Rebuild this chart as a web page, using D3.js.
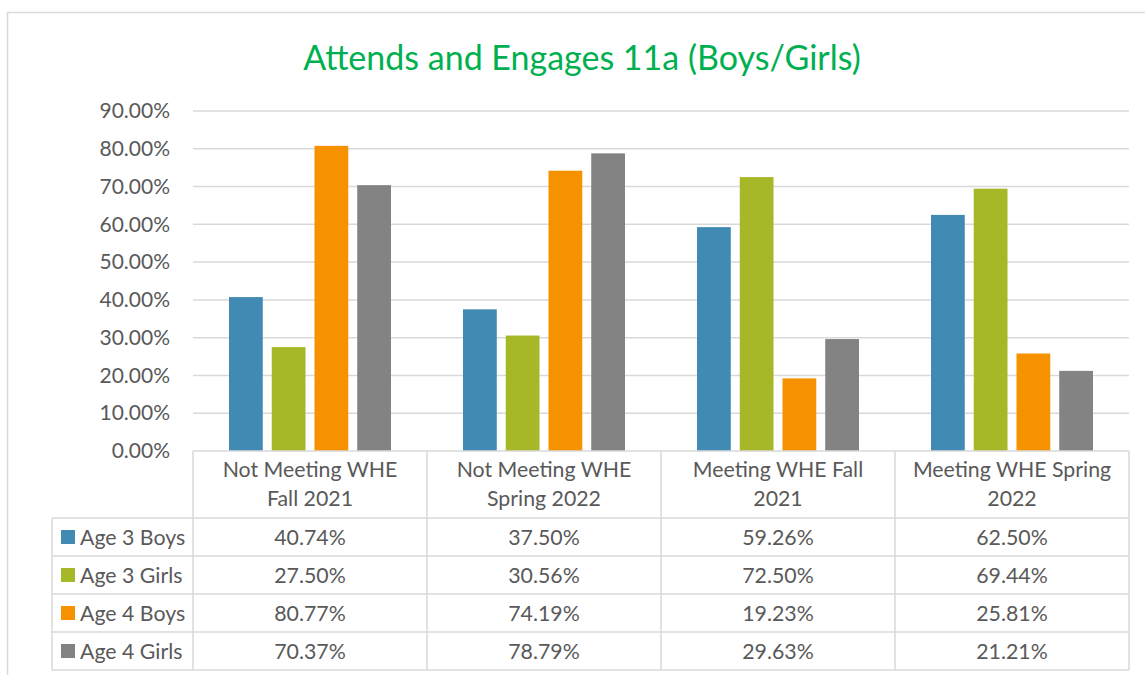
<!DOCTYPE html>
<html>
<head>
<meta charset="utf-8">
<script src="https://cdn.jsdelivr.net/npm/d3@7"></script>
<style>
  html, body { margin: 0; padding: 0; background: #fff; }
  svg { display: block; }
  text { font-family: "Lato", "Noto Sans", sans-serif; }
</style>
</head>
<body>
<svg id="chart" width="1145" height="675"></svg>
<script>
// Categories (two-line header labels in the data table)
const categories = [
  ["Not Meeting WHE", "Fall 2021"],
  ["Not Meeting WHE", "Spring 2022"],
  ["Meeting WHE Fall", "2021"],
  ["Meeting WHE Spring", "2022"]
];
const seriesNames = ["Age 3 Boys", "Age 3 Girls", "Age 4 Boys", "Age 4 Girls"];
const age3Boys  = [40.74, 37.50, 59.26, 62.50];
const age3Girls = [27.50, 30.56, 72.50, 69.44];
const age4Boys  = [80.77, 74.19, 19.23, 25.81];
const age4Girls = [70.37, 78.79, 29.63, 21.21];
const yTicks = [0, 10, 20, 30, 40, 50, 60, 70, 80, 90];
const seriesColors = ["#418AB3", "#A6B727", "#F69200", "#838383"];

const seriesValues = [age3Boys, age3Girls, age4Boys, age4Girls];

const svg = d3.select("#chart");
const gridColor = "#d9d9d9";
const textColor = "#595959";
const tableFont = 21.3;

// Outer chart frame
svg.append("path")
  .attr("d", "M7.5,675 L7.5,12.5 L1145,12.5")
  .attr("fill", "none").attr("stroke", gridColor).attr("stroke-width", 1.5);

// Title
svg.append("text")
  .attr("x", 582).attr("y", 70)
  .attr("text-anchor", "middle")
  .attr("fill", "#00B050")
  .attr("font-size", 34)
  .text("Attends and Engages 11a (Boys/Girls)");

const plotLeft = 193, plotRight = 1129, plotTop = 111, plotBottom = 451;

const y = d3.scaleLinear().domain([0, 90]).range([plotBottom, plotTop]);
const x0 = d3.scaleBand().domain(d3.range(categories.length)).range([plotLeft, plotRight]).padding(0);
const x1 = d3.scaleBand().domain(d3.range(seriesNames.length))
  .range([36, x0.bandwidth() - 36]).paddingInner(0.21).paddingOuter(0);

// Gridlines
svg.append("g").selectAll("line").data(yTicks.filter(d => d > 0)).join("line")
  .attr("x1", plotLeft).attr("x2", plotRight)
  .attr("y1", d => y(d)).attr("y2", d => y(d))
  .attr("stroke", gridColor).attr("stroke-width", 1.5);

// Y axis labels
const yAxis = d3.axisLeft(y).tickValues(yTicks)
  .tickFormat(d => d.toFixed(2) + "%").tickSize(0).tickPadding(0);
const yg = svg.append("g").attr("transform", `translate(170,0)`).call(yAxis);
yg.select(".domain").remove();
yg.selectAll("text").attr("fill", textColor).attr("font-size", 21)
  .style("font-family", "Lato, 'Noto Sans', sans-serif");

// Bars
const groups = svg.append("g").selectAll("g").data(categories).join("g")
  .attr("transform", (d, i) => `translate(${x0(i)},0)`);
groups.selectAll("rect")
  .data((d, ci) => seriesValues.map((vals, si) => ({ si, v: vals[ci] })))
  .join("rect")
  .attr("x", d => x1(d.si))
  .attr("width", x1.bandwidth())
  .attr("y", d => y(d.v))
  .attr("height", d => y(0) - y(d.v))
  .attr("fill", d => seriesColors[d.si]);

// Data table
const tableLeft = 52, headerTop = 451, headerBottom = 518, rowH = 38;
const rowTops = seriesNames.map((s, i) => headerBottom + i * rowH);
const tableBottom = headerBottom + seriesNames.length * rowH;
const tg = svg.append("g");
const line = (x1_, y1_, x2_, y2_) => tg.append("line")
  .attr("x1", x1_).attr("y1", y1_).attr("x2", x2_).attr("y2", y2_)
  .attr("stroke", gridColor).attr("stroke-width", 1.5);

line(plotLeft, headerTop, plotRight, headerTop);
line(tableLeft, headerBottom, plotRight, headerBottom);
rowTops.forEach((t, i) => line(tableLeft, t + rowH, plotRight, t + rowH));
line(tableLeft, headerBottom, tableLeft, tableBottom);
d3.range(categories.length + 1).forEach(i => {
  const xx = plotLeft + i * x0.bandwidth();
  line(xx, headerTop, xx, tableBottom);
});

// Header labels
categories.forEach((lines, i) => {
  const cx = x0(i) + x0.bandwidth() / 2;
  lines.forEach((l, k) => {
    tg.append("text").attr("x", cx).attr("y", 477 + k * 29)
      .attr("text-anchor", "middle").attr("fill", textColor).attr("font-size", tableFont)
      .text(l);
  });
});

// Legend keys and values
seriesNames.forEach((name, si) => {
  const cy = rowTops[si] + rowH / 2;
  tg.append("rect").attr("x", 61).attr("y", cy - 7).attr("width", 14).attr("height", 14)
    .attr("fill", seriesColors[si]);
  tg.append("text").attr("x", 80).attr("y", cy + 7.5)
    .attr("fill", textColor).attr("font-size", tableFont).text(name);
  seriesValues[si].forEach((v, ci) => {
    tg.append("text").attr("x", x0(ci) + x0.bandwidth() / 2).attr("y", cy + 7.5)
      .attr("text-anchor", "middle").attr("fill", textColor).attr("font-size", tableFont)
      .text(v.toFixed(2) + "%");
  });
});
</script>
</body>
</html>
